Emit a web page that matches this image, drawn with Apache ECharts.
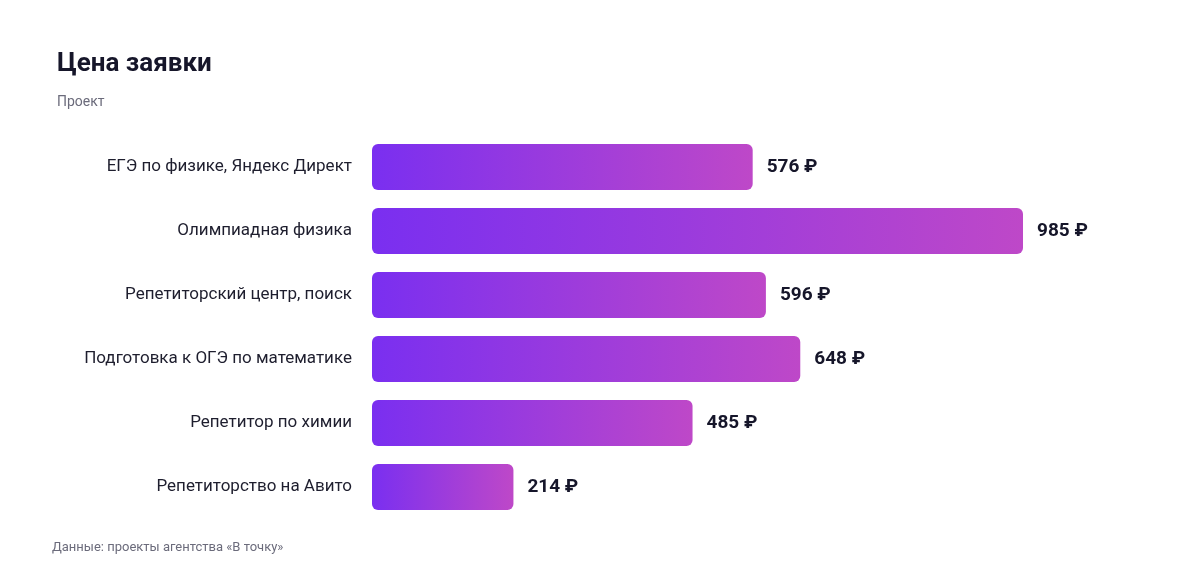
<!DOCTYPE html>
<html><head><meta charset="utf-8">
<script src="https://cdn.jsdelivr.net/npm/echarts@6/dist/echarts.min.js"></script>
<style>html,body{margin:0;padding:0;background:#fff}#c{width:1200px;height:584px}</style>
</head><body><div id="c"></div>
<script>
const categories = ["ЕГЭ по физике, Яндекс Директ","Олимпиадная физика","Репетиторский центр, поиск","Подготовка к ОГЭ по математике","Репетитор по химии","Репетиторство на Авито"];
const values = [576, 985, 596, 648, 485, 214];
const chart = echarts.init(document.getElementById('c'));
const font = "Roboto, 'Noto Sans', sans-serif";
chart.setOption({
  animation:false,
  title:{text:"Цена заявки", subtext:"Проект", left:52, top:46,
    textStyle:{fontSize:26, fontWeight:'bold', color:'#16162a', fontFamily:font},
    subtextStyle:{fontSize:14, color:'#6b6b7b', fontFamily:font}, itemGap:18},
  graphic:[{type:'text', left:52, top:541, style:{text:"Данные: проекты агентства «В точку»", fontSize:13, fill:'#6b6b7b', fontFamily:font}}],
  grid:{left:372, right:177, top:135, height:384, containLabel:false},
  xAxis:{type:'value', min:0, max:985, show:false},
  yAxis:{type:'category', data:categories, inverse:true,
    axisLine:{show:false}, axisTick:{show:false},
    axisLabel:{fontSize:17, color:'#1e1e2e', margin:20, fontFamily:font}},
  series:[{type:'bar', data:values, barWidth:46,
    itemStyle:{borderRadius:6, color:new echarts.graphic.LinearGradient(0,0,1,0,[{offset:0,color:'#7a2ff0'},{offset:1,color:'#be48c8'}])},
    label:{show:true, position:'right', distance:14, formatter:p=>p.value+' ₽',
      fontSize:19, fontWeight:'bold', color:'#16162a', fontFamily:font}}]
});
</script></body></html>
